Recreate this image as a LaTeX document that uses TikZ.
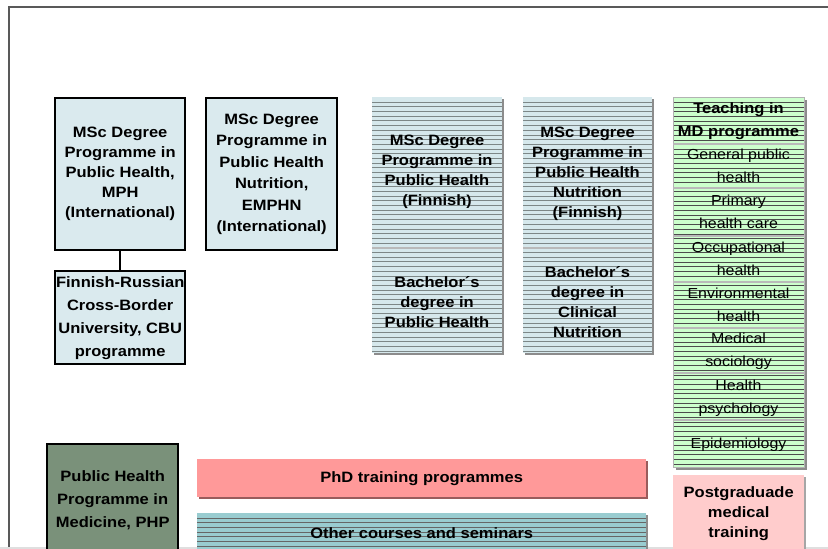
\documentclass[tikz,border=0pt]{standalone}
\usepackage{fontspec}
\setmainfont[FakeStretch=1.1]{Liberation Sans}
\usetikzlibrary{shadows}
\definecolor{boxblue}{RGB}{218,234,238}
\definecolor{hatchblue}{RGB}{214,232,236}
\definecolor{hatchgray}{RGB}{125,135,135}
\definecolor{mdgreen}{RGB}{204,255,204}
\definecolor{phdred}{RGB}{255,153,153}
\definecolor{pgpink}{RGB}{255,204,204}
\definecolor{courseteal}{RGB}{153,204,208}
\definecolor{phpgreen}{RGB}{122,145,122}
\newcommand{\hs}{4.7pt}

\begin{document}
\begin{tikzpicture}[x=1pt,y=-1pt,
    box/.style={anchor=north west, inner sep=0pt, align=center, font=\bfseries\fontsize{15}{20}\selectfont},
    progbox/.style={box, draw=black, line width=2.4pt, fill=#1},
    progbox/.default=boxblue,
    hatchline/.style={draw=hatchgray, line width=0.5pt},
    hatchbox/.style={box, drop shadow={shadow xshift=2pt, shadow yshift=-2pt, opacity=1, fill=gray!90}, fill=#1,
        path picture={\foreach \k in {1,...,80}
            \draw[hatchline] ([yshift=-\k*\hs]path picture bounding box.north west) -- ([yshift=-\k*\hs]path picture bounding box.north east);}},
    txt/.style={inner sep=0pt, align=center, font=\bfseries\fontsize{15}{20}\selectfont},
    subj/.style={inner sep=0pt, align=center, font=\fontsize{14.5}{23}\selectfont},
    divider/.style={draw=gray!55, line width=1.5pt},
    link/.style={draw=black, line width=2pt}]
    \useasboundingbox (0,0) rectangle (828,549);
    \clip (0,0) rectangle (828,549);
    \draw[gray!70!black, line width=2.5pt] (9,560) -- (9,7) -- (840,7);
    \draw[gray!25, line width=1.5pt] (0,548) -- (828,548);

    % International programmes
    \node[progbox, minimum width=130pt, minimum height=152pt] (mph) at (54,97) {MSc Degree\\Programme in\\Public Health,\\MPH\\(International)};
    \node[progbox, minimum width=131pt, minimum height=152pt, font=\bfseries\fontsize{15}{21.5}\selectfont] (emphn) at (205,97) {MSc Degree\\Programme in\\Public Health\\Nutrition,\\EMPHN\\(International)};
    \node[progbox, minimum width=130pt, minimum height=93pt, font=\bfseries\fontsize{15}{23}\selectfont] (cbu) at (54,270) {Finnish-Russian\\Cross-Border\\University, CBU\\programme};
    \draw[link] (mph) -- (cbu);

    % Finnish programmes
    \node[hatchbox=hatchblue, minimum width=130pt, minimum height=256pt] (phfin) at (372,97) {};
    \draw[divider] (phfin.west |- 0,248) -- (phfin.east |- 0,248);
    \node[txt] (phfin-msc) at (437,172) {MSc Degree\\Programme in\\Public Health\\(Finnish{\Large )}};
    \node[txt] (phfin-bsc) at (437,302) {Bachelor´s\\degree in\\Public Health};

    \node[hatchbox=hatchblue, minimum width=129pt, minimum height=256pt] (phnut) at (523,97) {};
    \draw[divider] (phnut.west |- 0,248) -- (phnut.east |- 0,248);
    \node[txt] (phnut-msc) at (587.5,174) {MSc Degree\\Programme in\\Public Health\\Nutrition\\(Finnish)};
    \node[txt] (phnut-bsc) at (587.5,302) {Bachelor´s\\degree in\\Clinical\\Nutrition};

    % Teaching in MD programme
    \node[hatchbox=mdgreen, hatchline/.style={draw=black!70, line width=0.5pt}, draw=gray!60, line width=1pt,
        minimum width=131pt, minimum height=370pt] (md) at (673,97) {};
    \foreach \y in {144,188,236,282,328,373,420}
        \draw[divider] (md.west |- 0,\y) -- (md.east |- 0,\y);
    \node[txt, font=\bfseries\fontsize{15}{23}\selectfont] (md-head) at (738.5,121.5) {Teaching in\\MD programme};
    \node[subj] (md-gph) at (738.5,166) {General public\\health};
    \node[subj] (md-phc) at (738.5,212) {Primary\\health care};
    \node[subj] (md-occ) at (738.5,259) {Occupational\\health};
    \node[subj] (md-env) at (738.5,305) {Environmental\\health};
    \node[subj] (md-soc) at (738.5,351) {Medical\\sociology};
    \node[subj] (md-psy) at (738.5,398) {Health\\psychology};
    \node[subj] (md-epi) at (738.5,445) {Epidemiology};

    % Bottom row
    \node[progbox=phpgreen, minimum width=131pt, minimum height=112pt, font=\bfseries\fontsize{15}{23}\selectfont] (php) at (46,443) {Public Health\\Programme in\\Medicine, PHP};
    \node[box, fill=phdred, drop shadow={shadow xshift=2pt, shadow yshift=-2pt, opacity=1, fill=phdred!60!black},
        minimum width=449pt, minimum height=38pt] (phd) at (197,459) {PhD training programmes};
    \node[hatchbox=courseteal, hatchline/.style={draw=black!60, line width=0.5pt},
        minimum width=449pt, minimum height=40pt] (other) at (197,513) {Other courses and seminars};
    \node[box, fill=pgpink, drop shadow={shadow xshift=1.5pt, shadow yshift=-1.5pt, opacity=1, fill=gray!70},
        minimum width=131pt, minimum height=76pt] (pg) at (673,475) {Postgraduade\\medical\\training};
\end{tikzpicture}
\end{document}
